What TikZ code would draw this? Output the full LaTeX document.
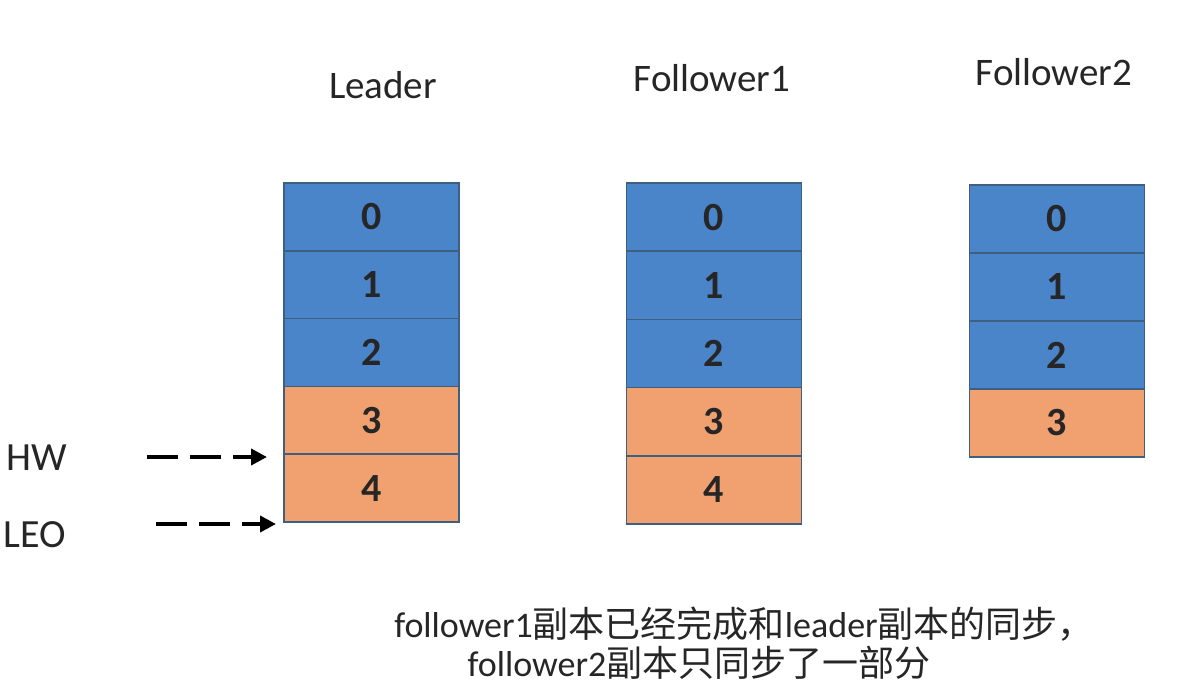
\documentclass[tikz,border=0pt]{standalone}
\usepackage{fontspec}
\setmainfont{Carlito}
\newfontfamily\cjk{Noto Sans CJK SC}
\usetikzlibrary{arrows.meta}
\definecolor{cblue}{HTML}{4A85C9}
\definecolor{corange}{HTML}{F1A06F}
\definecolor{cedge}{HTML}{3D5F80}
\tikzset{
  cell/.style={rectangle, draw=cedge, line width=1.6pt, minimum width=175pt, minimum height=#1, inner sep=0pt, font=\fontsize{40}{40}\selectfont\bfseries, text=black!85},
  bluecell/.style={cell=#1, fill=cblue},
  orangecell/.style={cell=#1, fill=corange},
  title/.style={font=\fontsize{39}{39}\selectfont, text=black!85},
  side/.style={font=\fontsize{40}{40}\selectfont, text=black!85, anchor=west},
  ptr/.style={dash pattern=on 31pt off 12pt, line width=3.8pt, -{Triangle[length=16pt,width=16pt]}},
}
\begin{document}
\begin{tikzpicture}[x=1pt,y=-1pt]
\useasboundingbox (0,0) rectangle (1198,686);
% Leader
\foreach \i in {0,1,2}{\node[bluecell=67.8pt] (L\i) at (371.5,{183+67.8*\i+33.9}) {\i};}
\foreach \i in {3,4}{\node[orangecell=67.8pt] (L\i) at (371.5,{183+67.8*\i+33.9}) {\i};}
% Follower1
\foreach \i in {0,1,2}{\node[bluecell=68.2pt] (F\i) at (714,{183+68.2*\i+34.1}) {\i};}
\foreach \i in {3,4}{\node[orangecell=68.2pt] (F\i) at (714,{183+68.2*\i+34.1}) {\i};}
% Follower2
\foreach \i in {0,1,2}{\node[bluecell=68pt] (G\i) at (1057,{185+68*\i+34}) {\i};}
\foreach \i in {3}{\node[orangecell=68pt] (G\i) at (1057,{185+68*\i+34}) {\i};}
% titles
\node[title] (tL) at (383,85) {Leader};
\node[title] (tF1) at (712,78) {Follower1};
\node[title] (tF2) at (1054,72) {Follower2};
% HW / LEO
\node[side] (hw) at (3,458) {HW};
\node[side] (leo) at (0,535) {LEO};
\coordinate (hwa) at (147,457);
\coordinate (hwb) at (267,457);
\coordinate (leoa) at (156,524);
\coordinate (leob) at (276,524);
\draw[ptr] (hwa) -- (hwb);
\draw[ptr] (leoa) -- (leob);
% caption
\node[font=\fontsize{36}{36}\selectfont, text=black!85] (cap1) at (744,624) {follower1{\cjk 副本已经完成和}leader{\cjk 副本的同步，}};
\node[font=\fontsize{36}{36}\selectfont, text=black!85] (cap2) at (699,663) {follower2{\cjk 副本只同步了一部分}};
\end{tikzpicture}
\end{document}
